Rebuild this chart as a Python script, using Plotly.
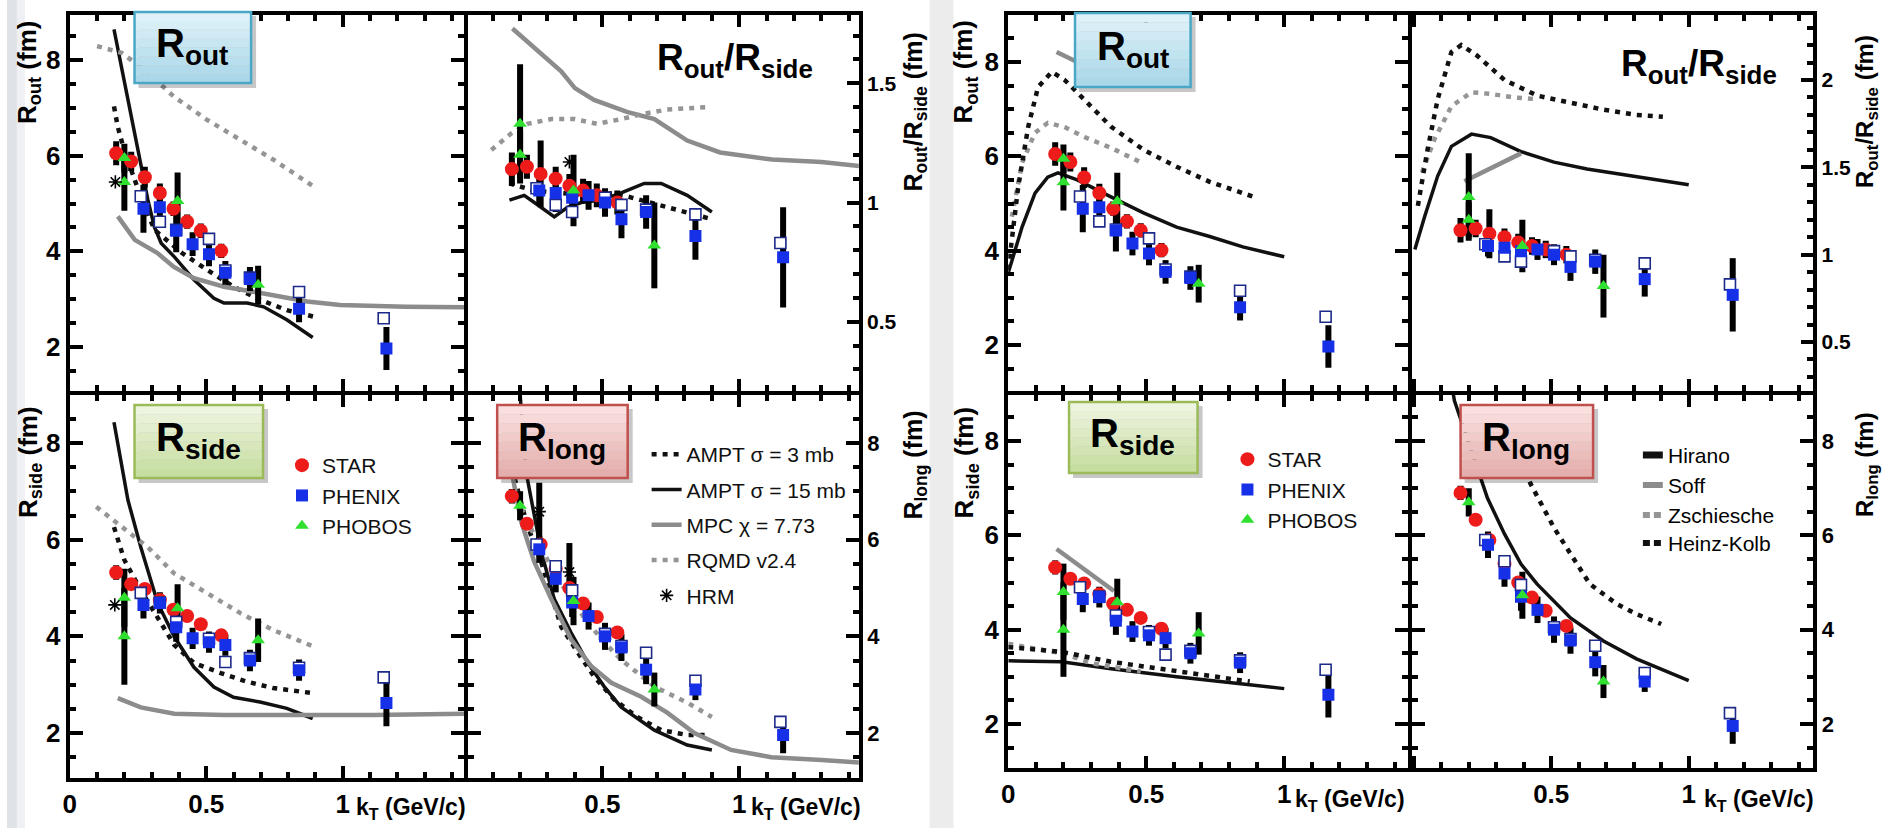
import plotly.graph_objects as go

W, H = 1883, 828

# ---------------- experimental data (kT in GeV/c, radii in fm) ----------------
kt_star = [0.17, 0.225, 0.275, 0.33, 0.38, 0.43, 0.48, 0.555]
star_out = [6.05, 5.88, 5.55, 5.22, 4.89, 4.62, 4.43, 4.01]
star_out_err = [0.25, 0.2, 0.22, 0.2, 0.15, 0.15, 0.15, 0.15]
star_side = [5.32, 5.08, 4.98, 4.75, 4.55, 4.42, 4.25, 4.02]
star_side_err = [0.15, 0.12, 0.12, 0.12, 0.12, 0.12, 0.12, 0.12]
star_long = [6.9, 6.33, 5.9, 5.4, 5.0, 4.68, 4.4, 4.08]
star_long_err = [0.15, 0.12, 0.12, 0.12, 0.12, 0.12, 0.12, 0.12]
star_ratio = [1.14, 1.15, 1.12, 1.10, 1.07, 1.05, 1.03, 1.0]
star_ratio_err = [0.07, 0.05, 0.14, 0.05, 0.05, 0.05, 0.05, 0.05]

kt_phenix = [0.27, 0.33, 0.39, 0.45, 0.51, 0.57, 0.66, 0.84, 1.16]
phenix_out = [4.89, 4.92, 4.43, 4.15, 3.94, 3.55, 3.42, 2.8, 1.97]
phenix_out_err = [0.5, 0.3, 0.45, 0.25, 0.25, 0.25, 0.25, 0.28, 0.45]
phenix_side = [4.65, 4.69, 4.19, 3.96, 3.88, 3.82, 3.5, 3.3, 2.62]
phenix_side_err = [0.28, 0.22, 0.3, 0.22, 0.22, 0.22, 0.22, 0.22, 0.48]
phenix_long = [5.8, 5.19, 4.7, 4.42, 4.0, 3.77, 3.31, 2.9, 1.96]
phenix_long_err = [0.28, 0.28, 0.3, 0.28, 0.28, 0.28, 0.3, 0.22, 0.38]
phenix_ratio = [1.05, 1.04, 1.02, 1.03, 1.0, 0.93, 0.96, 0.86, 0.77]
phenix_ratio_err = [0.06, 0.08, 0.06, 0.06, 0.06, 0.08, 0.07, 0.1, 0.21]

kt_phenix_b = [0.26, 0.33, 0.39, 0.51, 0.57, 0.66, 0.84, 1.15]
phenixb_out = [5.15, 4.62, 4.45, 4.26, 3.6, 3.45, 3.15, 2.6]
phenixb_side = [4.9, 4.7, 4.3, 3.95, 3.47, 3.55, 3.35, 3.15]
phenixb_long = [5.9, 5.45, 4.95, 4.05, 3.8, 3.66, 3.08, 2.23]
phenixb_ratio = [1.06, 0.99, 0.96, 1.02, 0.99, 0.97, 0.95, 0.83]

kt_phobos = [0.2, 0.2, 0.395, 0.69]
phobos_out = [5.45, 5.95, 5.05, 3.3]
phobos_out_err = [0.6, 0.3, 0.6, 0.4]
phobos_side = [4.0, 4.8, 4.58, 3.92]
phobos_side_err = [1.0, 0.6, 0.5, 0.45]
phobos_long = [6.7, None, 4.73, 2.9]
phobos_long_err = [0.3, None, 0.5, 0.35]
phobos_ratio = [1.33, 1.2, 1.05, 0.82]
phobos_ratio_err = [0.25, 0.1, 0.15, 0.18]

kt_hrm_out, hrm_out = [0.167], [5.45]
kt_hrm_side, hrm_side = [0.165], [4.65]
kt_hrm_long, hrm_long, hrm_long_err = [0.27, 0.38], [6.58, 5.33], [0.6, 0.6]
kt_hrm_ratio, hrm_ratio = [0.38], [1.17]

# ---------------- model curves, left figure ----------------
ampt15_out_kt = [0.162, 0.2, 0.24, 0.26, 0.286, 0.31, 0.335, 0.384, 0.456, 0.528, 0.565, 0.65, 0.71, 0.795, 0.89]
ampt15_out = [8.64, 7.55, 6.45, 5.85, 5.08, 4.51, 4.17, 3.88, 3.4, 3.02, 2.92, 2.92, 2.84, 2.57, 2.2]
ampt3_out_kt = [0.162, 0.176, 0.2, 0.25, 0.31, 0.41, 0.504, 0.6, 0.7, 0.795, 0.897]
ampt3_out = [7.03, 6.6, 6.1, 5.3, 4.45, 3.97, 3.61, 3.26, 2.98, 2.77, 2.63]
mpc_out_kt = [0.176, 0.238, 0.32, 0.38, 0.455, 0.565, 0.7, 0.87, 0.99, 1.23, 1.46]
mpc_out = [4.73, 4.24, 3.97, 3.68, 3.44, 3.26, 3.13, 2.95, 2.88, 2.84, 2.83]
rqmd_out_kt = [0.1, 0.19, 0.286, 0.38, 0.5, 0.625, 0.745, 0.9]
rqmd_out = [8.29, 8.15, 7.74, 7.24, 6.76, 6.34, 5.92, 5.33]

ampt15_ratio_kt = [0.161, 0.215, 0.252, 0.325, 0.373, 0.423, 0.496, 0.569, 0.653, 0.715, 0.81, 0.9]
ampt15_ratio = [1.01, 1.03, 1.0, 0.94, 0.98, 1.0, 1.01, 1.04, 1.08, 1.08, 1.03, 0.96]
ampt3_ratio_kt = [0.161, 0.25, 0.35, 0.45, 0.544, 0.642, 0.737, 0.9]
ampt3_ratio = [1.08, 1.05, 1.04, 1.03, 1.04, 1.01, 0.98, 0.93]
mpc_ratio_kt = [0.172, 0.263, 0.35, 0.4, 0.47, 0.59, 0.69, 0.81, 0.93, 1.12, 1.3, 1.46]
mpc_ratio = [1.73, 1.64, 1.55, 1.48, 1.43, 1.38, 1.35, 1.26, 1.21, 1.18, 1.17, 1.15]
rqmd_ratio_kt = [0.095, 0.168, 0.227, 0.314, 0.398, 0.482, 0.57, 0.642, 0.737, 0.883]
rqmd_ratio = [1.22, 1.29, 1.33, 1.35, 1.35, 1.33, 1.35, 1.37, 1.39, 1.4]

ampt15_side_kt = [0.162, 0.213, 0.26, 0.322, 0.383, 0.455, 0.528, 0.6, 0.697, 0.795, 0.89]
ampt15_side = [8.43, 6.82, 5.85, 4.69, 3.99, 3.36, 2.95, 2.74, 2.64, 2.51, 2.3]
ampt3_side_kt = [0.162, 0.2, 0.26, 0.322, 0.383, 0.455, 0.553, 0.65, 0.745, 0.897]
ampt3_side = [6.26, 5.58, 4.96, 4.4, 3.82, 3.45, 3.24, 3.06, 2.93, 2.82]
mpc_side_kt = [0.176, 0.26, 0.383, 0.565, 0.87, 1.11, 1.46]
mpc_side = [2.72, 2.53, 2.4, 2.37, 2.37, 2.37, 2.4]
rqmd_side_kt = [0.097, 0.2, 0.285, 0.383, 0.503, 0.625, 0.745, 0.897]
rqmd_side = [6.68, 6.24, 5.85, 5.3, 4.89, 4.48, 4.13, 3.78]

ampt15_long_kt = [0.2, 0.222, 0.252, 0.277, 0.325, 0.386, 0.446, 0.507, 0.568, 0.69, 0.81, 0.9]
ampt15_long = [9.0, 7.4, 6.5, 5.75, 4.77, 4.08, 3.46, 2.96, 2.54, 2.06, 1.75, 1.65]
ampt3_long_kt = [0.18, 0.226, 0.277, 0.35, 0.41, 0.47, 0.544, 0.628, 0.715, 0.81, 0.883]
ampt3_long = [7.27, 6.3, 5.54, 4.2, 3.67, 3.17, 2.69, 2.33, 2.06, 1.96, 1.96]
mpc_long_kt = [0.172, 0.204, 0.252, 0.314, 0.386, 0.46, 0.533, 0.642, 0.737, 0.836, 0.97, 1.117, 1.3, 1.46]
mpc_long = [7.33, 6.37, 5.54, 4.77, 3.94, 3.38, 3.04, 2.75, 2.42, 2.0, 1.65, 1.5, 1.44, 1.38]
rqmd_long_kt = [0.204, 0.263, 0.325, 0.386, 0.446, 0.507, 0.568, 0.69, 0.81, 0.9]
rqmd_long = [6.65, 5.96, 5.33, 4.77, 4.29, 3.88, 3.52, 2.96, 2.63, 2.33]

# ---------------- model curves, right figure ----------------
hirano_out_kt = [0.0, 0.05, 0.097, 0.143, 0.18, 0.25, 0.372, 0.49, 0.61, 0.73, 0.85, 1.0]
hirano_out = [3.53, 4.5, 5.22, 5.56, 5.65, 5.5, 5.14, 4.8, 4.5, 4.3, 4.08, 3.87]
hk_out_kt = [0.0, 0.036, 0.072, 0.108, 0.158, 0.204, 0.276, 0.372, 0.49, 0.61, 0.73, 0.89]
hk_out = [3.6, 5.35, 6.62, 7.47, 7.79, 7.62, 7.2, 6.63, 6.14, 5.78, 5.46, 5.14]
zs_out_kt = [0.013, 0.05, 0.097, 0.143, 0.204, 0.276, 0.372, 0.485]
zs_out = [4.72, 5.86, 6.5, 6.71, 6.62, 6.41, 6.18, 5.86]
soff_out_kt = [0.175, 0.25]
soff_out = [8.21, 8.0]

hirano_ratio_kt = [0.004, 0.04, 0.087, 0.137, 0.21, 0.28, 0.39, 0.51, 0.63, 0.75, 0.88, 1.0]
hirano_ratio = [1.03, 1.22, 1.45, 1.62, 1.69, 1.67, 1.59, 1.53, 1.49, 1.46, 1.43, 1.4]
hk_ratio_kt = [0.015, 0.05, 0.087, 0.137, 0.173, 0.23, 0.33, 0.45, 0.57, 0.69, 0.81, 0.906]
hk_ratio = [1.28, 1.6, 1.89, 2.16, 2.2, 2.14, 2.0, 1.91, 1.87, 1.83, 1.8, 1.79]
zs_ratio_kt = [0.03, 0.075, 0.137, 0.21, 0.28, 0.365, 0.45]
zs_ratio = [1.47, 1.66, 1.85, 1.93, 1.92, 1.9, 1.89]
soff_ratio_kt = [0.184, 0.39]
soff_ratio = [1.42, 1.58]

hirano_side_kt = [0.0, 0.193, 0.372, 0.61, 0.85, 1.0]
hirano_side = [3.34, 3.32, 3.17, 3.0, 2.85, 2.75]
hk_side_kt = [0.0, 0.193, 0.372, 0.61, 0.875]
hk_side = [3.63, 3.53, 3.32, 3.11, 2.9]
zs_side_kt = [0.0, 0.193, 0.31, 0.48]
zs_side = [3.7, 3.5, 3.28, 3.11]
soff_side_kt = [0.175, 0.383]
soff_side = [5.71, 4.82]

hirano_long_kt = [0.135, 0.148, 0.21, 0.268, 0.33, 0.39, 0.448, 0.57, 0.69, 0.81, 1.0]
hirano_long = [9.3, 8.85, 7.79, 6.79, 6.03, 5.39, 4.97, 4.25, 3.76, 3.38, 2.92]
hk_long_kt = [0.36, 0.425, 0.51, 0.57, 0.64, 0.737, 0.81, 0.9]
hk_long = [8.0, 7.09, 6.16, 5.6, 4.97, 4.55, 4.33, 4.12]

model_names_right = ["Hirano", "Soff", "Zschiesche", "Heinz-Kolb"]

# ---------------- geometry helpers ----------------
SANS = "Liberation Sans, Arial, sans-serif"


def dom_x(a, b):
    return [a / W, b / W]


def dom_y(top, bot):
    return [1 - bot / H, 1 - top / H]


def lin_range(d0, d1, cal):
    p1, v1, p2, v2 = cal
    s = (v2 - v1) / (p2 - p1)
    return [v1 + (d0 - p1) * s, v1 + (d1 - p1) * s]


LX = [61, 461, 857]
LY = [13, 393, 780]
RX = [1003, 1408, 1815]
RY = [13, 393, 770]
h = 2

cal = {
    "LA": (63, 0, 337, 1), "LB": (460, 0, 735, 1),
    "LT": (60, 8, 347, 2), "LBt": (443, 8, 733, 2), "Lr": (83.3, 1.5, 321.7, 0.5),
    "RA": (1005, 0, 1282, 1), "RB": (1412, 0, 1688, 1),
    "RT": (62, 8, 345, 2), "RBt": (441, 8, 724, 2), "Rr": (80, 2, 342, 0.5),
}

panels = [
    (LX[0] + h, LX[1] - h, LY[0] + h, LY[1] - h, "LA", "LT", "out", "L"),
    (LX[1] + h, LX[2] - h, LY[0] + h, LY[1] - h, "LB", "Lr", "ratio", "L"),
    (LX[0] + h, LX[1] - h, LY[1] + h, LY[2] - h, "LA", "LBt", "side", "L"),
    (LX[1] + h, LX[2] - h, LY[1] + h, LY[2] - h, "LB", "LBt", "long", "L"),
    (RX[0] + h, RX[1] - h, RY[0] + h, RY[1] - h, "RA", "RT", "out", "R"),
    (RX[1] + h, RX[2] - h, RY[0] + h, RY[1] - h, "RB", "Rr", "ratio", "R"),
    (RX[0] + h, RX[1] - h, RY[1] + h, RY[2] - h, "RA", "RBt", "side", "R"),
    (RX[1] + h, RX[2] - h, RY[1] + h, RY[2] - h, "RB", "RBt", "long", "R"),
]

fig = go.Figure()
layout = {}

tick_common = dict(showline=True, linewidth=4, linecolor="black", ticks="inside",
                   tickcolor="black", showgrid=False, zeroline=False)
MINOR_X = dict(dtick=0.1, tick0=0, ticklen=6, tickwidth=3.5, tickcolor="black", ticks="inside")

for i, (x0, x1, y0, y1, xc, yc, kind, fside) in enumerate(panels, start=1):
    sfx = "" if i == 1 else str(i)
    xr = lin_range(x0, x1, cal[xc])
    if xc in ("LA", "RA"):
        xr[0] = 0.0
    yr = lin_range(y1, y0, cal[yc])
    bottom = kind in ("side", "long")
    rightcol = kind in ("ratio", "long")
    xa = dict(tick_common, domain=dom_x(x0, x1), range=xr, anchor="y" + sfx,
              mirror="allticks", ticklen=12, tickwidth=4, dtick=0.5, tick0=0,
              minor=MINOR_X, showticklabels=bottom,
              tickfont=dict(family=SANS, size=26, color="black", weight="bold"))
    if rightcol:
        xa["labelalias"] = {"0": " "}
    layout["xaxis" + sfx] = xa
    if kind == "ratio":
        ya = dict(tick_common, domain=dom_y(y0, y1), range=yr, anchor="x" + sfx, side="right",
                  mirror=True, ticklen=12, tickwidth=4, dtick=0.5, tick0=0,
                  minor=dict(dtick=0.1, tick0=0, ticklen=6, tickwidth=3.5, tickcolor="black", ticks="inside"),
                  tickfont=dict(family=SANS, size=21, color="black", weight="bold"))
    else:
        ya = dict(tick_common, domain=dom_y(y0, y1), range=yr, anchor="x" + sfx,
                  side="right" if rightcol else "left",
                  mirror="allticks", ticklen=13, tickwidth=4, dtick=2, tick0=0,
                  minor=dict(dtick=0.5, tick0=0, ticklen=6, tickwidth=3.5, tickcolor="black", ticks="inside"),
                  tickfont=dict(family=SANS, size=22 if rightcol else 26, color="black", weight="bold"))
    layout["yaxis" + sfx] = ya

for k, (pi, ycal) in enumerate([(2, "LT"), (6, "RT")]):
    x0, x1, y0, y1 = panels[pi - 1][:4]
    yr = lin_range(y1, y0, cal[ycal])
    layout["yaxis" + str(9 + k)] = dict(
        overlaying="y" + str(pi), anchor="x" + str(pi), side="left", range=yr,
        showline=False, showgrid=False, zeroline=False, ticks="inside", ticklen=13,
        tickwidth=4, tickcolor="black", dtick=2, tick0=0, showticklabels=False,
        minor=dict(dtick=0.5, tick0=0, ticklen=6, tickwidth=3.5, tickcolor="black", ticks="inside"))

# ---------------- styles ----------------
BDOT = dict(color="#111111", width=4.5, dash="5px,6px")
BSOL = dict(color="#111111", width=3.5)
GSOL = dict(color="#8c8c8c", width=4.5)
GDOT = dict(color="#959595", width=4.5, dash="5px,6px")


def ref(i):
    return ("x" if i == 1 else "x%d" % i), ("y" if i == 1 else "y%d" % i)


def add_line(i, kt, vals, style, name, legend=None):
    xr_, yr_ = ref(i)
    fig.add_trace(go.Scatter(x=kt, y=vals, mode="lines", line=style, name=name,
                             xaxis=xr_, yaxis=yr_, hoverinfo="skip",
                             showlegend=legend is not None, legend=legend or "legend",
                             legendgroup=name))


def add_err(i, kt, vals, errs):
    xr_, yr_ = ref(i)
    fig.add_trace(go.Scatter(x=kt, y=vals, mode="markers",
                             marker=dict(size=1, color="rgba(0,0,0,0)"),
                             error_y=dict(type="data", array=errs, color="black", thickness=6, width=0),
                             xaxis=xr_, yaxis=yr_, showlegend=False, hoverinfo="skip"))


def add_pts(i, kt, vals, marker, name, legend=None):
    xr_, yr_ = ref(i)
    fig.add_trace(go.Scatter(x=kt, y=vals, mode="markers", marker=marker, name=name,
                             xaxis=xr_, yaxis=yr_, hoverinfo="skip",
                             showlegend=legend is not None, legend=legend or "legend",
                             legendgroup=name + (legend or "")))


M_STAR = dict(symbol="circle", size=14, color="#ee1b1b")
M_PHX = dict(symbol="square", size=12, color="#1630e8")
M_PHXB = dict(symbol="square", size=11, color="white", line=dict(color="#1d2a8a", width=1.6))
M_PHO = dict(symbol="triangle-up", size=12, color="#2fe02f")
M_HRM = dict(symbol="asterisk-open", size=11, color="black", line=dict(color="black", width=1.6))

exp = {
    "out": (star_out, star_out_err, phenix_out, phenix_out_err, phenixb_out, phobos_out, phobos_out_err),
    "side": (star_side, star_side_err, phenix_side, phenix_side_err, phenixb_side, phobos_side, phobos_side_err),
    "long": (star_long, star_long_err, phenix_long, phenix_long_err, phenixb_long, phobos_long, phobos_long_err),
    "ratio": (star_ratio, star_ratio_err, phenix_ratio, phenix_ratio_err, phenixb_ratio, phobos_ratio, phobos_ratio_err),
}
hrm = {"out": (kt_hrm_out, hrm_out, None), "side": (kt_hrm_side, hrm_side, None),
       "long": (kt_hrm_long, hrm_long, hrm_long_err), "ratio": (kt_hrm_ratio, hrm_ratio, None)}

models_L = {
    "out": [(ampt3_out_kt, ampt3_out), (ampt15_out_kt, ampt15_out), (mpc_out_kt, mpc_out), (rqmd_out_kt, rqmd_out)],
    "ratio": [(ampt3_ratio_kt, ampt3_ratio), (ampt15_ratio_kt, ampt15_ratio), (mpc_ratio_kt, mpc_ratio), (rqmd_ratio_kt, rqmd_ratio)],
    "side": [(ampt3_side_kt, ampt3_side), (ampt15_side_kt, ampt15_side), (mpc_side_kt, mpc_side), (rqmd_side_kt, rqmd_side)],
    "long": [(ampt3_long_kt, ampt3_long), (ampt15_long_kt, ampt15_long), (mpc_long_kt, mpc_long), (rqmd_long_kt, rqmd_long)],
}
names_L = ["AMPT σ = 3 mb", "AMPT σ = 15 mb", "MPC χ = 7.73", "RQMD v2.4"]
styles_L = [BDOT, BSOL, GSOL, GDOT]

models_R = {
    "out": [(hirano_out_kt, hirano_out), (soff_out_kt, soff_out), (zs_out_kt, zs_out), (hk_out_kt, hk_out)],
    "ratio": [(hirano_ratio_kt, hirano_ratio), (soff_ratio_kt, soff_ratio), (zs_ratio_kt, zs_ratio), (hk_ratio_kt, hk_ratio)],
    "side": [(hirano_side_kt, hirano_side), (soff_side_kt, soff_side), (zs_side_kt, zs_side), (hk_side_kt, hk_side)],
    "long": [(hirano_long_kt, hirano_long), None, None, (hk_long_kt, hk_long)],
}
styles_R = [BSOL, GSOL, GDOT, BDOT]

for i, p in enumerate(panels, start=1):
    kind, fside = p[6], p[7]
    if fside == "L":
        mods, nms, sts, dleg = models_L[kind], names_L, styles_L, "legend"
        mleg = "legend2" if kind == "long" else None
    else:
        mods, nms, sts, dleg = models_R[kind], model_names_right, styles_R, "legend3"
        mleg = None
    is_leg_data = kind == "side"
    for m, nm, st in zip(mods, nms, sts):
        if m is None:
            continue
        add_line(i, m[0], m[1], st, nm, mleg)
    s, se, ph, phe, phb, po, poe = exp[kind]
    add_err(i, kt_star, s, se)
    add_err(i, kt_phenix, ph, phe)
    add_err(i, kt_phobos, po, poe)
    if fside == "L" and hrm[kind][2] is not None:
        add_err(i, hrm[kind][0], hrm[kind][1], hrm[kind][2])
    add_pts(i, kt_star, s, M_STAR, "STAR", dleg if is_leg_data else None)
    add_pts(i, kt_phenix_b, phb, M_PHXB, "PHENIX b")
    add_pts(i, kt_phenix, ph, M_PHX, "PHENIX", dleg if is_leg_data else None)
    add_pts(i, kt_phobos, po, M_PHO, "PHOBOS", dleg if is_leg_data else None)
    if fside == "L":
        add_pts(i, hrm[kind][0], hrm[kind][1], M_HRM, "HRM", mleg)

# ---------------- decorations ----------------
shapes = []
shapes.append(dict(type="rect", xref="paper", yref="paper", x0=0, x1=10 / W, y0=0, y1=1,
                   fillcolor="#dfe3e8", line=dict(width=0), layer="below"))
shapes.append(dict(type="rect", xref="paper", yref="paper", x0=10 / W, x1=18 / W, y0=0, y1=1,
                   fillcolor="#eef0f3", line=dict(width=0), layer="below"))
shapes.append(dict(type="rect", xref="paper", yref="paper", x0=926 / W, x1=950 / W, y0=0, y1=1,
                   fillcolor="#ececec", line=dict(width=0), layer="below"))


def hexmix(c1, c2, t):
    a = [int(c1[k:k + 2], 16) for k in (1, 3, 5)]
    b = [int(c2[k:k + 2], 16) for k in (1, 3, 5)]
    return "#%02x%02x%02x" % tuple(round(a[j] + (b[j] - a[j]) * t) for j in range(3))


def label_box(x0, y0, x1, y1, ctop, cbot, border):
    shapes.append(dict(type="rect", xref="paper", yref="paper", x0=(x0 + 4) / W, x1=(x1 + 5) / W,
                       y0=1 - (y1 + 5) / H, y1=1 - (y0 + 4) / H,
                       fillcolor="rgba(0,0,0,0.22)", line=dict(width=0), layer="above"))
    n = 8
    for k in range(n):
        ya = y0 + (y1 - y0) * k / n
        yb = y0 + (y1 - y0) * (k + 1) / n
        shapes.append(dict(type="rect", xref="paper", yref="paper", x0=x0 / W, x1=x1 / W,
                           y0=1 - yb / H, y1=1 - ya / H, fillcolor=hexmix(ctop, cbot, (k + 0.5) / n),
                           line=dict(width=0), layer="above"))
    shapes.append(dict(type="rect", xref="paper", yref="paper", x0=x0 / W, x1=x1 / W,
                       y0=1 - y1 / H, y1=1 - y0 / H, line=dict(color=border, width=2.5), layer="above"))


BLUE = ("#e2f3fa", "#a6d6e8", "#4aa7c6")
GREEN = ("#f0f6e4", "#c3dc9b", "#9bbb59")
PINK = ("#fae4e3", "#e3aaa8", "#c0504d")
label_box(128, 12, 245, 83, *BLUE)
label_box(128, 405, 257, 478, *GREEN)
label_box(492, 405, 623, 478, *PINK)
label_box(1072, 13, 1188, 87, *BLUE)
label_box(1066, 402, 1195, 473, *GREEN)
label_box(1459, 405, 1592, 478, *PINK)

ann = []


def text(xp, yp, s, size, angle=0, xanchor="center", bold=True):
    ann.append(dict(x=xp / W, y=1 - yp / H, xref="paper", yref="paper", text=s, showarrow=False,
                    textangle=angle, xanchor=xanchor, yanchor="middle",
                    font=dict(family=SANS, size=size, color="black", weight="bold" if bold else "normal")))


# panel labels
text(186, 46, "R<sub>out</sub>", 40)
text(192, 440, "R<sub>side</sub>", 40)
text(557, 440, "R<sub>long</sub>", 40)
text(1130, 49, "R<sub>out</sub>", 40)
text(1130, 436, "R<sub>side</sub>", 40)
text(1525, 440, "R<sub>long</sub>", 40)
text(731, 60, "R<sub>out</sub>/R<sub>side</sub>", 37)
text(1698, 66, "R<sub>out</sub>/R<sub>side</sub>", 37)

# axis titles
text(22, 72, "R<sub>out</sub> (fm)", 26, angle=-90)
text(22, 462, "R<sub>side</sub> (fm)", 26, angle=-90)
text(911, 112, "R<sub>out</sub>/R<sub>side</sub> (fm)", 25, angle=-90)
text(911, 465, "R<sub>long</sub> (fm)", 25, angle=-90)
text(962, 72, "R<sub>out</sub> (fm)", 26, angle=-90)
text(962, 462, "R<sub>side</sub> (fm)", 26, angle=-90)
text(1867, 112, "R<sub>out</sub>/R<sub>side</sub> (fm)", 24, angle=-90)
text(1866, 465, "R<sub>long</sub> (fm)", 24, angle=-90)

# kT axis titles
for xp, yp in [(348, 808), (745, 808), (1291, 800), (1701, 800)]:
    text(xp, yp, "k<sub>T</sub> (GeV/c)", 23, xanchor="left")

# right-figure model legend (compact keys)
key_styles = [dict(color="#111111", width=7), dict(color="#8c8c8c", width=6),
              dict(color="#959595", width=6, dash="7px,4px"), dict(color="#111111", width=6, dash="7px,4px")]
for nm, ks, yp in zip(model_names_right, key_styles, [455, 485, 515, 543]):
    shapes.append(dict(type="line", xref="paper", yref="paper", x0=1642 / W, x1=1662 / W,
                       y0=1 - yp / H, y1=1 - yp / H, line=ks, layer="above"))
    text(1665, yp, nm, 21, xanchor="left", bold=False)

leg_font = dict(family=SANS, size=21, color="#111111")
layout.update(
    width=W, height=H, margin=dict(l=0, r=0, t=0, b=0),
    paper_bgcolor="white", plot_bgcolor="white",
    shapes=shapes, annotations=ann,
    legend=dict(x=276 / W, y=1 - 445 / H, xanchor="left", yanchor="top", font=leg_font,
                bgcolor="rgba(0,0,0,0)", tracegroupgap=0, itemwidth=30),
    legend2=dict(x=642 / W, y=1 - 434 / H, xanchor="left", yanchor="top", font=leg_font,
                 bgcolor="rgba(0,0,0,0)", tracegroupgap=5, itemwidth=30),
    legend3=dict(x=1225 / W, y=1 - 439 / H, xanchor="left", yanchor="top", font=leg_font,
                 bgcolor="rgba(0,0,0,0)", tracegroupgap=0, itemwidth=30),
)
fig.update_layout(**layout)
fig.write_html("out.html")
